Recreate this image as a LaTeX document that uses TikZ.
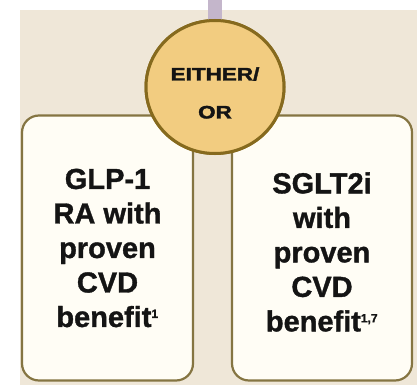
\documentclass[tikz,border=0pt]{standalone}
\usepackage{fontspec}
\setmainfont{Liberation Sans}
\newfontfamily\boxfont[FakeBold=1.2]{Liberation Sans}
\newfontfamily\widefont[FakeStretch=1.25,FakeBold=2]{Liberation Sans}
\usetikzlibrary{shapes.geometric,backgrounds}
\definecolor{bgbeige}{HTML}{EFE7D8}
\definecolor{boxfill}{HTML}{FFFDF5}
\definecolor{boxline}{HTML}{857542}
\definecolor{circfill}{HTML}{F2CC80}
\definecolor{circline}{HTML}{866A1E}
\definecolor{stemcol}{HTML}{C4B6CB}
\definecolor{txt}{HTML}{141414}
\tikzset{
  choicebox/.style={draw=boxline, line width=2.2pt, fill=boxfill, rounded corners=17pt, inner sep=0pt},
  boxtext/.style={text=txt, align=center, font=\fontsize{29}{34.5}\selectfont\boxfont\bfseries, inner sep=0pt},
  circtext/.style={text=txt, align=center, font=\fontsize{18}{38}\selectfont\widefont\bfseries, inner sep=0pt},
  choicecirc/.style={ellipse, draw=circline, line width=3pt, fill=circfill, minimum width=138pt, minimum height=133pt, inner sep=0pt},
  stemline/.style={draw=stemcol, line width=14pt},
}
\begin{document}
\begin{tikzpicture}[x=1pt,y=-1pt]
\useasboundingbox (0,0) rectangle (417,385);
\fill[white] (0,0) rectangle (417,385);
\fill[bgbeige] (20,10) rectangle (417,385);
% boxes
\node[choicebox, minimum width=171pt, minimum height=265pt] (lbox) at (107.5,248) {};
\node[choicebox, minimum width=180pt, minimum height=265pt] (rbox) at (322,248) {};
% circle and stem from above
\node[choicecirc] (either) at (215,87) {};
\coordinate (stemtop) at (215,0);
\begin{pgfonlayer}{background}
\end{pgfonlayer}
\draw[stemline] (stemtop) -- ([yshift=-1.5pt]either.north);
\node[choicecirc] (eithercirc) at (215,87) {};
\node[circtext] (eithertext) at (215,93) {EITHER/\\OR};
% texts
\node[boxtext] (ltext) at (107.5,248) {GLP-1\\RA with\\proven\\CVD\\benefit\textsuperscript{\fontsize{12}{12}\selectfont 1}};
\node[boxtext] (rtext) at (322,252) {SGLT2i\\with\\proven\\CVD\\benefit\textsuperscript{\fontsize{12}{12}\selectfont 1,7}};
\end{tikzpicture}
\end{document}
